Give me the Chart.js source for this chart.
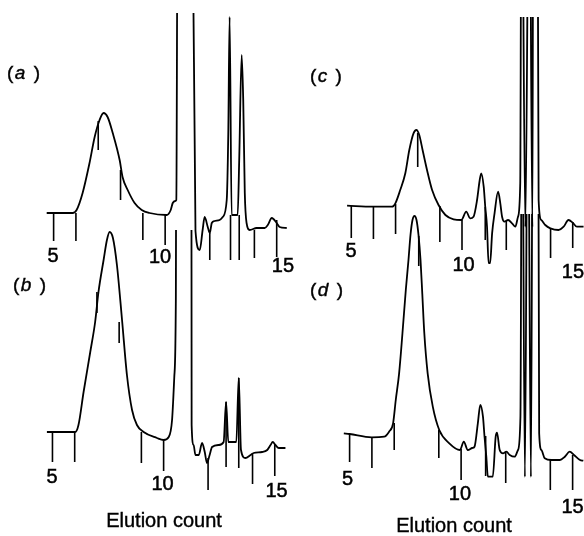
<!DOCTYPE html>
<html lang="en">
<head>
  <meta charset="UTF-8">
  <title>Elution profiles (a)-(d)</title>
  <script src="https://cdn.jsdelivr.net/npm/chart.js"></script>
  <style>
    html, body { margin: 0; padding: 0; background: #fff; }
    body { width: 584px; height: 536px; position: relative; overflow: hidden;
           font-family: "Liberation Sans", Arial, Helvetica, sans-serif; color: #000; }
    canvas { position: absolute; }
    .tag { position: absolute; font-size: 19px; line-height: 19px; letter-spacing: 1.5px; white-space: nowrap;
           -webkit-text-stroke: 0.4px #000; }
    .xtitle { position: absolute; width: 200px; text-align: center; font-size: 20px; line-height: 20px;
              -webkit-text-stroke: 0.4px #000; }
  </style>
</head>
<body>
  <canvas id="chartA" width="290" height="264"></canvas>
  <canvas id="chartB" width="289" height="272"></canvas>
  <canvas id="chartC" width="279" height="270"></canvas>
  <canvas id="chartD" width="281" height="300"></canvas>

  <div class="tag" style="left:7px; top:63px;">(<i>a</i> )</div>
  <div class="tag" style="left:13px; top:275px;">(<i>b</i> )</div>
  <div class="tag" style="left:310px; top:66px;">(<i>c</i> )</div>
  <div class="tag" style="left:310px; top:280px;">(<i>d</i> )</div>
  <div class="xtitle" style="left:64px; top:510px;">Elution count</div>
  <div class="xtitle" style="left:354px; top:515px;">Elution count</div>

  <script>
    // detector trace: elution count vs signal (arbitrary units)
    // values above the top of a panel are off-scale peaks
    const elutionA = [4.69,5.85,6.03,6.30,6.61,6.84,7.06,7.24,7.42,7.65,7.96,8.09,8.32,8.63,8.95,9.30,10.07,10.25,10.34,10.45,10.50,10.56,11.22,11.36,11.55,11.68,11.77,11.91,12.00,12.09,12.22,12.44,12.58,12.76,12.83,12.89,12.98,13.25,13.32,13.43,13.50,13.57,13.65,13.79,14.10,14.46,14.60,14.78,15.00,15.13,15.45];
    const signalA  = [0,0,1.5,10,25,38,46.5,50,48,40,26.5,18,11.5,5,1.5,0,-1,1.5,5,6,6.5,160,160,-9,-18.5,-8.5,-2,-7,-10,-5,-4,-3.5,-2,6.5,40,98,-1,-1,26.5,79,56.5,10,-5,-8.5,-7.5,-7.5,-6,-2.5,-5,-7,-7.5];

    const elutionB = [4.75,6.02,6.17,6.40,6.70,6.92,7.07,7.30,7.45,7.57,7.72,7.90,8.13,8.35,8.58,8.80,9.10,9.70,10.00,10.23,10.38,10.48,10.55,10.57,11.25,11.26,11.35,11.43,11.58,11.73,11.85,11.95,12.07,12.18,12.48,12.70,12.81,12.91,13.27,13.38,13.48,13.68,13.91,14.05,14.43,14.66,14.81,14.91,15.03,15.18,15.48];
    const signalB  = [0,0,3.5,20,40,55,70,86,96,100,97,83.5,56,28.5,11,3.5,0,-3,-4,-2.5,6,27.5,66,160,160,3.5,-6.5,-11.5,-11.5,-5.5,-10,-15.5,-11.5,-7.5,-6.5,-5,15,-5,-5,27,-9,-13,-11.5,-10.5,-10,-9,-6.5,-5,-6.5,-8,-8];

    const elutionC = [4.81,5.98,6.84,6.99,7.21,7.44,7.62,7.81,7.94,8.07,8.22,8.42,8.65,8.94,9.25,9.62,9.97,10.19,10.37,10.52,10.68,10.80,10.87,10.98,11.05,11.13,11.20,11.27,11.36,11.47,11.63,11.73,11.81,11.92,12.08,12.26,12.41,12.53,12.63,12.69,12.86,13.04,13.18,13.22,13.40,13.46,13.58,13.76,13.99,14.36,14.59,14.81,15.00,15.19,15.49];
    const signalC  = [0.65,0.15,0.15,1.85,8.5,16.85,28.5,36.85,38.5,36,28.5,18.5,8.5,1,-4,-6.15,-6.5,-2.35,-5.65,-4.85,3.5,13.5,16.85,10.15,0.15,-9.85,-28,-28,-13.15,-3.15,7.65,1.85,-4.85,-7.35,-6.5,-8.15,-9.85,-4.85,11.85,200,-10,200,-10,200,200,3.5,-6.5,-9,-10.65,-11.5,-9.85,-6.5,-7.85,-9.85,-9.85];

    const elutionD = [4.74,5.00,5.99,6.55,6.77,6.95,7.07,7.22,7.37,7.52,7.64,7.73,7.82,7.91,8.00,8.09,8.18,8.26,8.35,8.50,8.73,9.02,9.47,9.95,10.12,10.30,10.50,10.60,10.75,10.86,10.98,11.05,11.13,11.20,11.42,11.55,11.61,11.73,11.88,12.03,12.18,12.40,12.55,12.66,12.73,12.86,12.99,13.13,13.22,13.45,13.50,13.60,13.75,14.05,14.43,14.65,14.87,15.06,15.33,15.48];
    const signalD  = [0.35,0,-1.65,-1.35,1.15,5.35,17,30.35,50.35,72,87,99.5,107,109,107,99.5,87,70,50.35,30.35,13.65,2,-4.65,-8,-3.85,-8,-7,-6.35,5.35,14.5,8.65,-1.35,-11.35,-21.35,-21.35,-1.35,0.65,-8,-9.65,-8.85,-10.5,-11.35,-8,8.65,200,-21.5,200,-21.5,200,200,0.35,-8,-12.15,-13,-13,-11.35,-8.85,-10.5,-13,-13.35];

    // count marks hanging from the trace: position, top, bottom
    const markAtA     = [5,6,7,8,9,10,12,12.93,13.32,14,15];
    const markTopA    = [0,0,46,21.5,0,-1,-10,-1,-1,-8.5,-3.5];
    const markBottomA = [-14,-14,31.5,6.5,-13.5,-16,-23.5,-23.5,-23.5,-22.5,-22];

    const markAtB     = [5,6,7,8,9,10,12,12.81,13.38,14,15];
    const markTopB    = [0,0,70,55,0,-4,-13,15,27,-10.5,-6.5];
    const markBottomB = [-15,-15,59.5,44.5,-15.5,-19.5,-29,-17.5,-18,-26,-22];

    const markAtC     = [5,6,7,8,9,10,11.05,12,14,15];
    const markTopC    = [0.5,0,1.5,37,0.5,-6.5,0,-7,-10.5,-7.5];
    const markBottomC = [-15.5,-16,-13.5,20,-17.5,-21.5,-16.5,-21.5,-25.5,-20.5];

    const markAtD     = [5,6,7,8.1,9,10,11.1,12,14,15];
    const markTopD    = [0,-1.5,5.5,99,2,-7.5,-1,-9,-13,-10.5];
    const markBottomD = [-14,-17,-8,84,-12,-23,-21,-24.5,-28,-28];

    const countLabels = ['5', '10', '15'];

    // where each count label sits (x in counts, baseline in signal units)
    const labelAtA = [4.97, 9.77, 15.28],  labelBaseA = [-24.5, -25, -29.5];
    const labelAtB = [4.98, 9.95, 15.08],  labelBaseB = [-25.5, -29, -32.5];
    const labelAtC = [4.99, 10.07, 15.01], labelBaseC = [-25, -32, -35.5];
    const labelAtD = [4.91, 9.95, 15.0],   labelBaseD = [-25.5, -33, -39.5];

    const INK = '#000';

    const countLabelPlugin = {
      id: 'countLabels',
      afterDatasetsDraw(chart, args, opts) {
        const ctx = chart.ctx, xs = chart.scales.x, ys = chart.scales.y;
        ctx.save();
        ctx.fillStyle = INK;
        ctx.strokeStyle = INK;
        ctx.lineWidth = 0.5;
        ctx.font = '20px "Liberation Sans", Arial, sans-serif';
        ctx.textAlign = 'center';
        ctx.textBaseline = 'alphabetic';
        opts.text.forEach((t, i) => {
          const px = xs.getPixelForValue(opts.at[i]), py = ys.getPixelForValue(opts.base[i]);
          ctx.fillText(t, px, py);
          ctx.strokeText(t, px, py);
        });
        ctx.restore();
      }
    };

    function toPoints(xs, ys) {
      return xs.map((x, i) => ({ x: x, y: ys[i] }));
    }
    function toSegments(at, top, bottom) {
      const pts = [];
      at.forEach((x, i) => {
        pts.push({ x: x, y: top[i] }, { x: x, y: bottom[i] }, { x: x, y: null });
      });
      return pts;
    }

    const panels = [
      { id: 'chartA', left: 9,   top: 13,  x: [3, 16],   y: [-32, 100],
        trace: toPoints(elutionA, signalA), marks: toSegments(markAtA, markTopA, markBottomA),
        at: labelAtA, base: labelBaseA },
      { id: 'chartB', left: 8,   top: 230, x: [3, 16],   y: [-35, 101],
        trace: toPoints(elutionB, signalB), marks: toSegments(markAtB, markTopB, markBottomB),
        at: labelAtB, base: labelBaseB },
      { id: 'chartC', left: 307, top: 17,  x: [3, 15.6], y: [-40, 95],
        trace: toPoints(elutionC, signalC), marks: toSegments(markAtC, markTopC, markBottomC),
        at: labelAtC, base: labelBaseC },
      { id: 'chartD', left: 305, top: 214, x: [3, 15.6], y: [-40, 110],
        trace: toPoints(elutionD, signalD), marks: toSegments(markAtD, markTopD, markBottomD),
        at: labelAtD, base: labelBaseD }
    ];

    panels.forEach(p => {
      const el = document.getElementById(p.id);
      el.style.left = p.left + 'px';
      el.style.top = p.top + 'px';
      new Chart(el.getContext('2d'), {
        type: 'line',
        data: {
          datasets: [
            { label: 'trace', data: p.trace, borderColor: INK, borderWidth: 1.8,
              pointRadius: 0, cubicInterpolationMode: 'monotone', fill: false },
            { label: 'marks', data: p.marks, borderColor: INK, borderWidth: 1.6,
              pointRadius: 0, tension: 0, spanGaps: false, fill: false }
          ]
        },
        options: {
          responsive: false,
          animation: false,
          layout: { padding: 0 },
          plugins: {
            legend: { display: false },
            tooltip: { enabled: false },
            countLabels: { text: countLabels, at: p.at, base: p.base }
          },
          scales: {
            x: { type: 'linear', min: p.x[0], max: p.x[1], display: false },
            y: { type: 'linear', min: p.y[0], max: p.y[1], display: false }
          }
        },
        plugins: [countLabelPlugin]
      });
    });
  </script>
</body>
</html>
